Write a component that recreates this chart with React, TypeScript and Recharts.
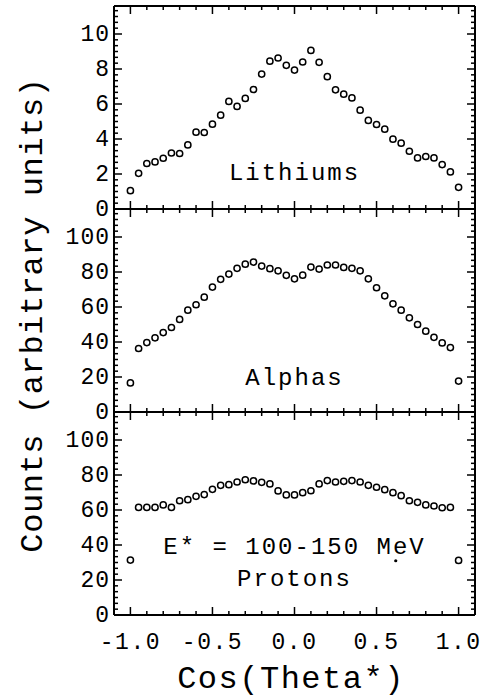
import React from 'react';
import { ScatterChart, Scatter, XAxis, YAxis, ReferenceDot } from 'recharts';

// ---------- data ----------
const cosTheta = [
  -1.0, -0.95, -0.9, -0.85, -0.8, -0.75, -0.7, -0.65, -0.6, -0.55, -0.5, -0.45, -0.4, -0.35,
  -0.3, -0.25, -0.2, -0.15, -0.1, -0.05, 0.0, 0.05, 0.1, 0.15, 0.2, 0.25, 0.3, 0.35, 0.4,
  0.45, 0.5, 0.55, 0.6, 0.65, 0.7, 0.75, 0.8, 0.85, 0.9, 0.95, 1.0,
];

const lithiums = [
  1.05, 2.04, 2.6, 2.69, 2.9, 3.2, 3.17, 3.66, 4.39, 4.37, 4.85, 5.36, 6.15, 5.86, 6.32,
  6.83, 7.71, 8.45, 8.63, 8.21, 7.94, 8.4, 9.06, 8.38, 7.56, 6.81, 6.56, 6.35, 5.65, 5.06,
  4.83, 4.56, 3.99, 3.76, 3.3, 2.92, 3.0, 2.92, 2.54, 2.12, 1.24,
];

const alphas = [
  16.6, 36.3, 39.7, 42.4, 45.4, 48.3, 52.9, 58.2, 61.3, 65.6, 71.4, 75.8, 78.8, 82.1, 84.5,
  85.7, 83.4, 81.9, 80.7, 78.1, 76.1, 78.2, 82.8, 81.7, 84.0, 84.0, 82.6, 82.1, 80.7, 76.1,
  71.0, 66.4, 61.8, 58.2, 53.8, 50.0, 46.2, 42.7, 39.5, 36.8, 17.7,
];

const protons = [
  31.4, 61.5, 61.5, 61.5, 62.9, 61.5, 65.3, 65.9, 67.8, 68.8, 71.8, 74.1, 74.5, 76.0, 77.3,
  76.6, 75.8, 74.9, 70.9, 68.6, 68.6, 69.9, 71.0, 74.9, 76.8, 76.0, 76.4, 76.8, 76.0, 74.1,
  73.0, 71.6, 69.9, 68.2, 65.3, 64.4, 62.9, 62.3, 61.3, 61.5, 31.2,
];

// stray speck in the proton panel
const protonSpeckX = [0.617];
const protonSpeckY = [31];

// ---------- ticks / labels ----------
const xTicks = [-1, -0.9, -0.8, -0.7, -0.6, -0.5, -0.4, -0.3, -0.2, -0.1, 0, 0.1, 0.2, 0.3, 0.4, 0.5, 0.6, 0.7, 0.8, 0.9, 1];
const xMajor = [-1, -0.5, 0, 0.5, 1];
const xLabels = ['-1.0', '-0.5', '0.0', '0.5', '1.0'];

const lithiumMajor = [0, 2, 4, 6, 8, 10];
const lithiumLabels = ['0', '2', '4', '6', '8', '10'];
const countsMajor = [0, 20, 40, 60, 80, 100];
const countsLabels = ['0', '20', '40', '60', '80', '100'];

const xTitle = 'Cos(Theta*)';
const yTitle = 'Counts (arbitrary units)';

// ---------- layout ----------
const W = 487;
const H = 700;
const LEFT = 114;
const RIGHT = 475;
const FONT = '"Liberation Mono", "Courier New", monospace';

const minorTicks = (step: number, max: number) => {
  const n = Math.floor(max / step + 1e-9);
  const out: number[] = [];
  for (let i = 0; i <= n; i++) out.push(+(i * step).toFixed(5));
  return out;
};

const findIdx = (arr: number[], v: number) => arr.findIndex((m) => Math.abs(m - v) < 1e-6);

const zip = (xs: number[], ys: number[]) => xs.map((x, i) => ({ x, y: ys[i] }));

const XTick = (props: any) => {
  const { x, y, payload, dir, showLabels } = props;
  const idx = findIdx(xMajor, payload.value);
  const major = idx >= 0;
  const len = major ? 8 : 4;
  return (
    <g>
      <line x1={x} x2={x} y1={y} y2={y + dir * len} stroke="#000" strokeWidth={1.5} />
      {showLabels && major && (
        <text x={x} y={y + 33.5} textAnchor="middle" fontFamily={FONT} fontSize={23} letterSpacing={1.5} fill="#000">
          {xLabels[idx]}
        </text>
      )}
    </g>
  );
};

const YTick = (props: any) => {
  const { x, y, payload, dir, majors, labels } = props;
  const idx = findIdx(majors, payload.value);
  const major = idx >= 0;
  const len = major ? 8 : 4;
  return (
    <g>
      <line x1={x} x2={x + dir * len} y1={y} y2={y} stroke="#000" strokeWidth={1.5} />
      {labels && major && (
        <text x={x - 4} y={y} dy={7} textAnchor="end" fontFamily={FONT} fontSize={23} letterSpacing={1} fill="#000">
          {labels[idx]}
        </text>
      )}
    </g>
  );
};

const OpenCircle = (p: any) => (
  <circle cx={p.cx} cy={p.cy} r={3.1} fill="#fff" stroke="#000" strokeWidth={1.5} />
);
const Speck = (p: any) => <circle cx={p.cx} cy={p.cy} r={1.6} fill="#000" />;
const Nothing = () => <g />;

type PanelLabel = { text: string; x: number; y: number };

type PanelProps = {
  top: number;
  bottom: number;
  yMax: number;
  majors: number[];
  labels: string[];
  minorStep: number;
  values: number[];
  panelLabels: PanelLabel[];
  showX: boolean;
  extra?: { x: number; y: number }[];
};

const axisLine = { stroke: '#000', strokeWidth: 2 };

function Panel({ top, bottom, yMax, majors, labels, minorStep, values, panelLabels, showX, extra }: PanelProps) {
  const data = zip(cosTheta, values);
  const yTicks = minorTicks(minorStep, yMax);
  return (
    <div style={{ position: 'absolute', left: 0, top: 0 }}>
      <ScatterChart
        width={W}
        height={H}
        margin={{ top: top - 1, bottom: H - bottom - 1, left: LEFT - 1, right: W - RIGHT - 1 }}
      >
        <XAxis
          xAxisId="b"
          type="number"
          dataKey="x"
          domain={[-1.1, 1.1]}
          allowDataOverflow
          ticks={xTicks}
          interval={0}
          height={1}
          tickSize={0}
          tickMargin={0}
          tickLine={false}
          axisLine={axisLine}
          tick={(p: any) => <XTick {...p} dir={-1} showLabels={showX} />}
        />
        <XAxis
          xAxisId="t"
          orientation="top"
          type="number"
          dataKey="x"
          domain={[-1.1, 1.1]}
          allowDataOverflow
          ticks={xTicks}
          interval={0}
          height={1}
          tickSize={0}
          tickMargin={0}
          tickLine={false}
          axisLine={axisLine}
          tick={(p: any) => <XTick {...p} dir={1} showLabels={false} />}
        />
        <YAxis
          yAxisId="l"
          type="number"
          dataKey="y"
          domain={[0, yMax]}
          allowDataOverflow
          ticks={yTicks}
          interval={0}
          width={1}
          tickSize={0}
          tickMargin={0}
          tickLine={false}
          axisLine={axisLine}
          tick={(p: any) => <YTick {...p} dir={1} majors={majors} labels={labels} />}
        />
        <YAxis
          yAxisId="r"
          orientation="right"
          type="number"
          dataKey="y"
          domain={[0, yMax]}
          allowDataOverflow
          ticks={yTicks}
          interval={0}
          width={1}
          tickSize={0}
          tickMargin={0}
          tickLine={false}
          axisLine={axisLine}
          tick={(p: any) => <YTick {...p} dir={-1} majors={majors} labels={null} />}
        />
        <Scatter xAxisId="t" yAxisId="r" data={data} shape={Nothing} isAnimationActive={false} />
        <Scatter xAxisId="b" yAxisId="l" data={data} shape={OpenCircle} isAnimationActive={false} />
        {extra && (
          <Scatter xAxisId="b" yAxisId="l" data={extra} shape={Speck} isAnimationActive={false} />
        )}
        {panelLabels.map((l) => (
          <ReferenceDot
            key={l.text}
            xAxisId="b"
            yAxisId="l"
            x={l.x}
            y={l.y}
            r={0}
            fill="none"
            stroke="none"
            label={{
              content: (lp: any) => (
                <text
                  x={lp.viewBox.x}
                  y={lp.viewBox.y}
                  textAnchor="middle"
                  fontFamily={FONT}
                  fontSize={24}
                  letterSpacing={2}
                  fill="#000"
                >
                  {l.text}
                </text>
              ),
            }}
          />
        ))}
      </ScatterChart>
    </div>
  );
}

export default function App() {
  return (
    <div style={{ position: 'absolute', left: 0, top: 0, width: W, height: H, background: '#fff' }}>
      <Panel
        top={6}
        bottom={209}
        yMax={11.6}
        majors={lithiumMajor}
        labels={lithiumLabels}
        minorStep={2 / 6}
        values={lithiums}
        panelLabels={[{ text: 'Lithiums', x: 0, y: 1.66 }]}
        showX={false}
      />
      <Panel
        top={209}
        bottom={412}
        yMax={116}
        majors={countsMajor}
        labels={countsLabels}
        minorStep={20 / 6}
        values={alphas}
        panelLabels={[{ text: 'Alphas', x: 0, y: 15.3 }]}
        showX={false}
      />
      <Panel
        top={412}
        bottom={615}
        yMax={116}
        majors={countsMajor}
        labels={countsLabels}
        minorStep={20 / 6}
        values={protons}
        panelLabels={[
          { text: 'E* = 100-150 MeV', x: 0, y: 34.7 },
          { text: 'Protons', x: 0, y: 16.4 },
        ]}
        showX={true}
        extra={zip(protonSpeckX, protonSpeckY)}
      />
      <svg width={W} height={H} style={{ position: 'absolute', left: 0, top: 0, pointerEvents: 'none' }}>
        <text x={291} y={688} textAnchor="middle" fontFamily={FONT} fontSize={32} letterSpacing={1.5} fill="#000">
          {xTitle}
        </text>
        <text
          x={42}
          y={315}
          textAnchor="middle"
          transform="rotate(-90 42 315)"
          fontFamily={FONT}
          fontSize={32}
          letterSpacing={0.6}
          fill="#000"
        >
          {yTitle}
        </text>
      </svg>
    </div>
  );
}
